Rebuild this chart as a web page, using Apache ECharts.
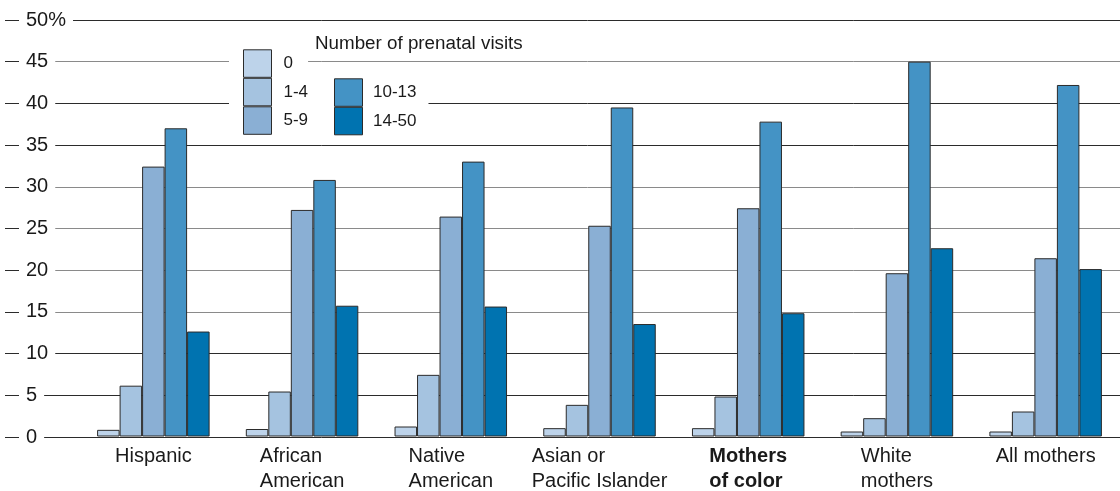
<!DOCTYPE html>
<html>
<head>
<meta charset="utf-8">
<script src="https://cdn.jsdelivr.net/npm/echarts@6/dist/echarts.min.js"></script>
<style>
html,body{margin:0;padding:0;background:#fff;}
#chart{width:1120px;height:491px;}
</style>
</head>
<body>
<div id="chart"></div>
<script>
// ---- data ----
const categories = ['Hispanic', 'African\nAmerican', 'Native\nAmerican', 'Asian or\nPacific Islander', 'Mothers\nof color', 'White\nmothers', 'All mothers'];
const boldCategory = 'Mothers\nof color';
const seriesNames = ['0', '1-4', '5-9', '10-13', '14-50'];
const visits0 = [0.8, 0.9, 1.2, 1.0, 1.0, 0.6, 0.6];
const visits1to4 = [6.1, 5.4, 7.4, 3.8, 4.8, 2.2, 3.0];
const visits5to9 = [32.4, 27.2, 26.4, 25.3, 27.4, 19.6, 21.4];
const visits10to13 = [37.0, 30.8, 33.0, 39.5, 37.8, 45.0, 42.2];
const visits14to50 = [12.6, 15.7, 15.6, 13.5, 14.8, 22.6, 20.1];
const yMin = 0, yMax = 50, yStep = 5;
const legendTitle = 'Number of prenatal visits';

// ---- styles ----
const FONT = '"Liberation Sans", Arial, Helvetica, sans-serif';
const TEXT = '#1a1a1a';
const colors = ['#bdd3ea', '#a5c3e0', '#8aafd4', '#4493c5', '#0073b0'];
const seriesData = [visits0, visits1to4, visits5to9, visits10to13, visits14to50];
const DARK = '#2b2b2b', GRAY = '#8a8a8a';

const chart = echarts.init(document.getElementById('chart'), null, {renderer: 'canvas'});

const series = seriesNames.map((name, i) => ({
  name: name,
  type: 'bar',
  xAxisIndex: 1,
  yAxisIndex: 1,
  data: seriesData[i],
  barWidth: 22.5,
  barGap: '0%',
  itemStyle: {color: colors[i], borderColor: DARK, borderWidth: 1},
  emphasis: {disabled: true},
  animation: false
}));

const option = {
  backgroundColor: '#fff',
  animation: false,
  textStyle: {fontFamily: FONT},
  title: {
    text: legendTitle,
    left: 315, top: 34.5, padding: 0,
    textStyle: {fontFamily: FONT, fontSize: 18.8, fontWeight: 'normal', color: TEXT}
  },
  legend: [
    {
      data: seriesNames.slice(0, 3),
      orient: 'vertical', left: 229, top: 44.3,
      padding: [5, 0, 5, 14],
      backgroundColor: '#fff',
      itemWidth: 28, itemHeight: 27.5, itemGap: 0,
      icon: 'rect', selectedMode: false,
      itemStyle: {borderColor: DARK, borderWidth: 1},
      textStyle: {fontFamily: FONT, fontSize: 17, color: TEXT, padding: [0, 0, 0, 7]}
    },
    {
      data: seriesNames.slice(3),
      orient: 'vertical', left: 304, top: 70.3,
      padding: [8, 12, 5, 30],
      backgroundColor: '#fff',
      itemWidth: 28, itemHeight: 27.5, itemGap: 0,
      icon: 'rect', selectedMode: false,
      itemStyle: {borderColor: DARK, borderWidth: 1},
      textStyle: {fontFamily: FONT, fontSize: 17, color: TEXT, padding: [0, 0, 0, 5.5]}
    }
  ],
  grid: [
    {left: 55, right: 0, top: 20, bottom: 54, containLabel: false},
    {left: 79, width: 1059, top: 20, bottom: 54, containLabel: false}
  ],
  xAxis: [
    {type: 'value', gridIndex: 0, min: 0, max: 1, show: false},
    {
      type: 'category', gridIndex: 1, data: categories,
      axisLine: {show: false}, axisTick: {show: false}, splitLine: {show: false},
      axisLabel: {
        interval: 0, margin: 7,
        formatter: function (v) {
          const st = v === boldCategory ? 'b' : 'n';
          return v.split('\n').map(l => '{' + st + '|' + l + '}').join('\n');
        },
        rich: {
          n: {fontFamily: FONT, fontSize: 20, lineHeight: 25, color: TEXT, align: 'left'},
          b: {fontFamily: FONT, fontSize: 20, lineHeight: 25, color: TEXT, align: 'left', fontWeight: 'bold'}
        }
      }
    }
  ],
  yAxis: [
    {
      type: 'value', gridIndex: 0, min: yMin, max: yMax, interval: yStep,
      axisLine: {show: false},
      axisTick: {show: true, length: 50, lineStyle: {color: DARK, width: 1}},
      splitLine: {show: true, lineStyle: {width: 1, color: [DARK, DARK, DARK, GRAY, GRAY, GRAY, GRAY, DARK, DARK, GRAY, DARK]}},
      axisLabel: {
        margin: 36, align: 'left',
        fontFamily: FONT, fontSize: 20, color: TEXT,
        backgroundColor: '#fff', padding: [1, 7, 1, 7],
        formatter: v => v === yMax ? v + '%' : String(v)
      }
    },
    {type: 'value', gridIndex: 1, min: yMin, max: yMax, interval: yStep, show: false, splitLine: {show: false}}
  ],
  series: series
};
chart.setOption(option);
</script>
</body>
</html>
